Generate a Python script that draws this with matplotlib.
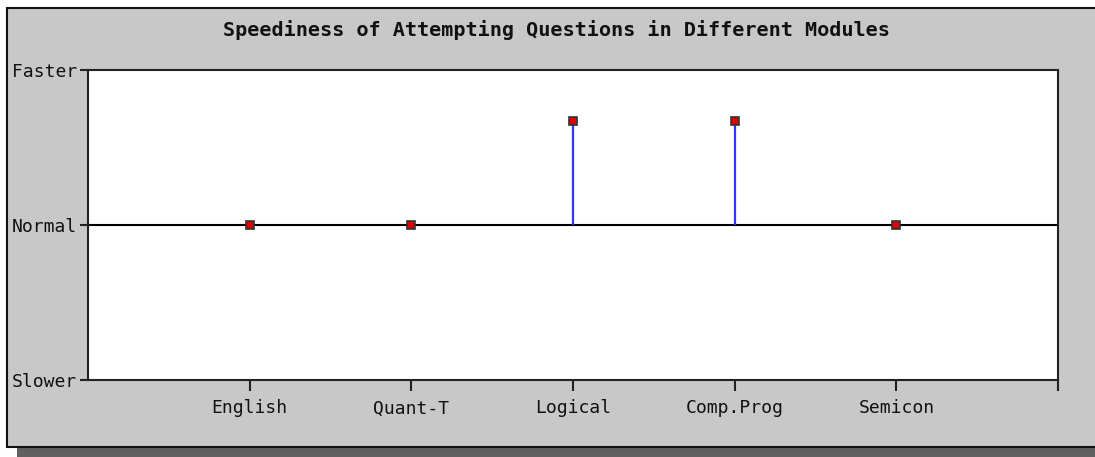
import matplotlib.pyplot as plt
from matplotlib.patches import Rectangle

modules = ['English', 'Quant-T', 'Logical', 'Comp.Prog', 'Semicon']
speed = [0, 0, 0.67, 0.67, 0]
levels = [-1, 0, 1]
level_names = ['Slower', 'Normal', 'Faster']

W, H = 1095, 457
fig = plt.figure(figsize=(W / 100, H / 100), dpi=100)
fig.patch.set_facecolor('white')

# shadow and gray panel (behind the axes)
fig.patches.append(Rectangle((17 / W, 0), 1.0, 11 / H, transform=fig.transFigure,
                             facecolor='#606060', edgecolor='none', zorder=-3))
fig.patches.append(Rectangle((7 / W, 10 / H), 1.0, (447 - 8) / H, transform=fig.transFigure,
                             facecolor='#c8c8c8', edgecolor='#111111', lw=1.5, zorder=-2))

ax = fig.add_axes([88 / W, 77 / H, 970 / W, 310 / H])
ax.set_facecolor('white')
x = list(range(1, len(modules) + 1))

ax.axhline(0, color='black', lw=1.5, zorder=2)
ax.vlines(x, 0, speed, color='#3333ff', lw=1.6, zorder=3)
ax.plot(x, speed, 's', ms=6, mfc='#e00000', mec='#333333', mew=1.2, ls='none', zorder=4)

ax.set_xlim(0, 6)
ax.set_ylim(-1, 1)
ax.set_xticks(x + [6])
ax.set_xticklabels(modules + [''])
ax.set_yticks(levels)
ax.set_yticklabels(level_names)

mono = 'DejaVu Sans Mono'
for lab in ax.get_xticklabels() + ax.get_yticklabels():
    lab.set_fontfamily(mono)
    lab.set_fontsize(13)
    lab.set_color('#111111')
ax.tick_params(axis='x', length=8, width=1.5, pad=6, color='#222222')
ax.tick_params(axis='y', length=6, width=1.5, pad=2, color='#222222')
for s in ax.spines.values():
    s.set_linewidth(1.5)
    s.set_color('#222222')

fig.text(556 / W, 1 - 30 / H, 'Speediness of Attempting Questions in Different Modules',
         ha='center', va='center', fontsize=14.5, fontweight='bold', fontfamily=mono,
         color='#111111')

fig.savefig('out.png', dpi=100)
